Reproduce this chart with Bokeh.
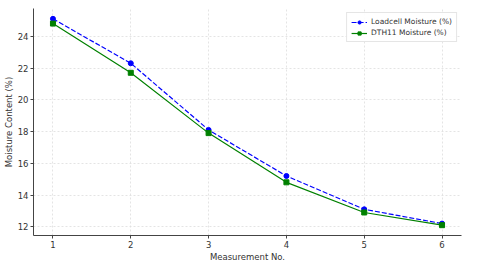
from bokeh.plotting import figure
from bokeh.models import FixedTicker, Range1d
from bokeh.embed import file_html
from bokeh.resources import INLINE

measurement = [1, 2, 3, 4, 5, 6]
loadcell = [25.1, 22.3, 18.1, 15.2, 13.1, 12.2]
dth11 = [24.8, 21.7, 17.9, 14.8, 12.9, 12.1]
x_ticks = [1, 2, 3, 4, 5, 6]
y_ticks = [12, 14, 16, 18, 20, 22, 24]

FONT = "DejaVu Sans"
AX = "#444444"

p = figure(width=464, height=264, output_backend="svg", toolbar_location=None,
           x_range=Range1d(0.75, 6.25), y_range=Range1d(11.45, 25.75),
           min_border_left=2, min_border_right=3, min_border_top=8, min_border_bottom=2)
p.outline_line_color = None
p.background_fill_color = "white"

for ax in (p.xaxis[0], p.yaxis[0]):
    ax.axis_line_color = AX
    ax.axis_line_width = 1
    ax.major_tick_line_color = AX
    ax.major_tick_in = 0
    ax.major_tick_out = 3
    ax.minor_tick_line_color = None
    ax.major_label_text_font = FONT
    ax.major_label_text_font_size = "8.5px"
    ax.major_label_text_color = "#333333"
    ax.major_label_standoff = 2
    ax.axis_label_text_font = FONT
    ax.axis_label_text_font_size = "8.5px"
    ax.axis_label_text_font_style = "normal"
    ax.axis_label_text_color = "#333333"
    ax.axis_label_standoff = 1

p.xaxis.ticker = FixedTicker(ticks=x_ticks)
p.yaxis.ticker = FixedTicker(ticks=y_ticks)
p.xaxis.axis_label = "Measurement No."
p.yaxis.axis_label = "Moisture Content (%)"

for g in (p.xgrid[0], p.ygrid[0]):
    g.grid_line_color = "#dddddd"
    g.grid_line_dash = "2 2"
    g.grid_line_width = 0.8

p.line(measurement, loadcell, line_color="blue", line_width=1.2, line_dash="5 2",
       legend_label="Loadcell Moisture (%)")
p.scatter(measurement, loadcell, marker="circle", size=5, fill_color="blue",
          line_color="blue", legend_label="Loadcell Moisture (%)")
p.line(measurement, dth11, line_color="green", line_width=1.2,
       legend_label="DTH11 Moisture (%)")
p.scatter(measurement, dth11, marker="square", size=5, fill_color="green",
          line_color="green", legend_label="DTH11 Moisture (%)")

lg = p.legend[0]
lg.location = "top_right"
lg.label_text_font = FONT
lg.label_text_font_size = "7.5px"
lg.label_text_color = "#333333"
lg.label_height = 8
lg.glyph_height = 8
lg.glyph_width = 16
lg.spacing = 2
lg.padding = 4
lg.margin = 4
lg.label_standoff = 4
lg.border_line_color = "#cccccc"
lg.border_line_width = 0.8
lg.background_fill_alpha = 0.9

open("out.html", "w").write(file_html(p, INLINE))
